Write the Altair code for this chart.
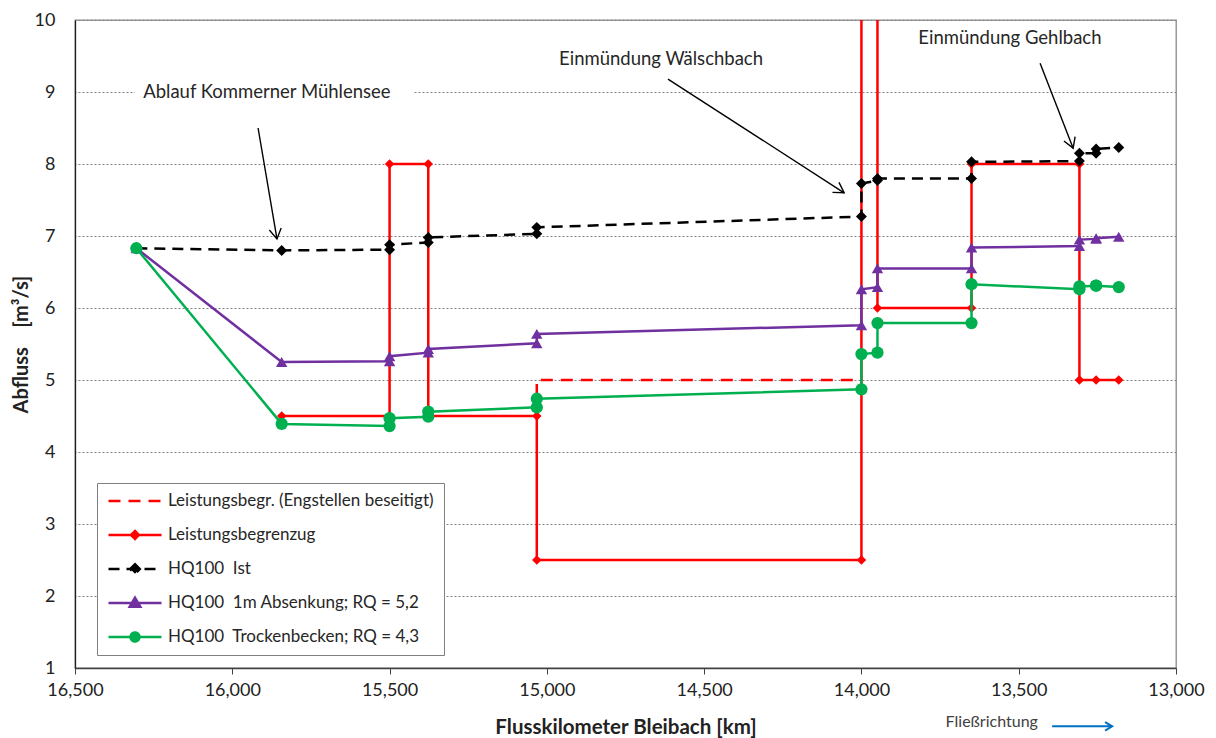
import math
import altair as alt
import pandas as pd

# ---------------- data ----------------
W, H = 1101, 648
KM_MIN, KM_MAX = 13000, 16500
Q_MIN, Q_MAX = 1, 10
X_TICKS = [16500, 16000, 15500, 15000, 14500, 14000, 13500, 13000]
Y_TICKS = [1, 2, 3, 4, 5, 6, 7, 8, 9, 10]

# cross sections shared by the three HQ100 series
KM = [16305, 15843, 15500, 15500, 15377, 15377, 15032, 15032, 14000, 14000,
      13949, 13949, 13650, 13650, 13307, 13307, 13254, 13254, 13182]
Q_IST = [6.83, 6.80, 6.81, 6.88, 6.91, 6.98, 7.03, 7.12, 7.27, 7.73,
         7.77, 7.80, 7.80, 8.03, 8.04, 8.15, 8.15, 8.21, 8.23]
Q_ABS = [6.83, 5.25, 5.26, 5.33, 5.38, 5.43, 5.51, 5.64, 5.76, 6.26,
         6.29, 6.55, 6.55, 6.84, 6.86, 6.95, 6.96, 6.97, 6.99]
Q_TB = [6.83, 4.39, 4.36, 4.47, 4.49, 4.56, 4.62, 4.74, 4.87, 5.36,
        5.38, 5.79, 5.79, 6.33, 6.26, 6.30, 6.31, 6.31, 6.29]

# Leistungsbegrenzung
LB_KM = [15843, 15500, 15500, 15377, 15377, 15032, 15032, 14000, 14000,
         13949, 13949, 13650, 13650, 13307, 13307, 13254, 13182]
LB_Q = [4.5, 4.5, 8.0, 8.0, 4.5, 4.5, 2.5, 2.5, 11.0,
        11.0, 6.0, 6.0, 8.0, 8.0, 5.0, 5.0, 5.0]

# Leistungsbegr. (Engstellen beseitigt)
ENG_KM = [15032, 15032, 14000]
ENG_Q = [4.5, 5.0, 5.0]

LEG_LABELS = ["Leistungsbegr. (Engstellen beseitigt)",
              "Leistungsbegrenzug",
              "HQ100\u00a0 Ist",
              "HQ100\u00a0 1m Absenkung; RQ = 5,2",
              "HQ100\u00a0 Trockenbecken; RQ = 4,3"]

# annotations
NOTE_TEXT = ["Ablauf Kommerner Mühlensee", "Einmündung Wälschbach", "Einmündung Gehlbach"]
NOTE_KM = [15890, 14637, 13528]
NOTE_Q = [9.0, 9.46, 9.75]
BOX_KM0, BOX_KM1, BOX_Q0, BOX_Q1 = [16309], [15426], [8.85], [9.15]
ARROW_KM0 = [15918, 14615, 13432]
ARROW_Q0 = [8.50, 9.18, 9.40]
ARROW_KM1 = [15858, 14055, 13327]
ARROW_Q1 = [6.96, 7.60, 8.22]
FLOW_TEXT = ["Fließrichtung"]
FLOW_KM, FLOW_Q = [13439], [0.25]
FLOW_ARROW_KM0, FLOW_ARROW_KM1, FLOW_ARROW_Q = [13394], [13203], [0.19]

# ---------------- styling ----------------
FONT = "Lato"
RED, BLACK, PURPLE, GREEN, BLUE = "#FF0000", "#000000", "#7030A0", "#00B050", "#0070C0"

x_scale = alt.Scale(domain=[KM_MIN, KM_MAX], reverse=True, nice=False, zero=False)
y_scale = alt.Scale(domain=[Q_MIN, Q_MAX], nice=False, zero=False)

x_axis = alt.Axis(values=X_TICKS, format=",.0f", title="Flusskilometer Bleibach [km]",
                  grid=False, ticks=True, tickSize=6, tickColor="#404040", tickWidth=1,
                  domainColor="#404040", domainWidth=1.3,
                  labelFont=FONT, labelFontSize=18, labelColor="#222", labelPadding=7,
                  labelFlush=False, labelOverlap=False,
                  titleFont=FONT, titleFontSize=20.5, titleFontWeight="bold", titleColor="#222",
                  titleBaseline="middle", titleY=59)
y_axis = alt.Axis(values=Y_TICKS, format="d", title="Abfluss\u00a0\u00a0\u00a0 [m³/s]", grid=True,
                  gridColor="#808080", gridDash=[2, 2], gridWidth=1,
                  ticks=False, tickSize=0, domainColor="#202020", domainWidth=1.3,
                  labelFont=FONT, labelFontSize=18, labelColor="#222", labelPadding=20,
                  labelFlush=False, labelOverlap=False,
                  titleFont=FONT, titleFontSize=20, titleFontWeight="bold", titleColor="#222",
                  titleAngle=270, titleBaseline="middle", titleAlign="center",
                  titleX=-54, titleY=H / 2)


def X(field):
    return alt.X(field, type="quantitative", scale=x_scale, axis=x_axis)


def Y(field):
    return alt.Y(field, type="quantitative", scale=y_scale, axis=y_axis)


def sdf(km, q):
    return pd.DataFrame({"km": km, "q": q, "i": list(range(len(km)))})


layers = []

# annotation background box
layers.append(alt.Chart(pd.DataFrame({"a": BOX_KM0, "b": BOX_KM1, "c": BOX_Q0, "d": BOX_Q1}))
              .mark_rect(color="white")
              .encode(x=X("a"), x2=alt.X2("b"), y=Y("c"), y2=alt.Y2("d")))

series = [
    (ENG_KM, ENG_Q, RED, [12, 8], None, 0),
    (LB_KM, LB_Q, RED, None, "diamond", 90),
    (KM, Q_IST, BLACK, [11, 7], "diamond", 120),
    (KM, Q_ABS, PURPLE, None, "triangle-up", 130),
    (KM, Q_TB, GREEN, None, "circle", 150),
]
for km, q, col, dash, shape, size in series:
    d = sdf(km, q)
    lk = dict(color=col, strokeWidth=2.5, clip=True)
    if dash:
        lk["strokeDash"] = dash
    layers.append(alt.Chart(d).mark_line(**lk).encode(x=X("km"), y=Y("q"), order=alt.Order("i:Q")))
    if shape:
        layers.append(alt.Chart(d).mark_point(filled=True, shape=shape, size=size, color=col,
                                              opacity=1, clip=True)
                      .encode(x=X("km"), y=Y("q")))

# annotations text
layers.append(alt.Chart(pd.DataFrame({"t": NOTE_TEXT, "km": NOTE_KM, "q": NOTE_Q}))
              .mark_text(font=FONT, fontSize=18.5, color="#262626", align="center", baseline="middle")
              .encode(x=X("km"), y=Y("q"), text="t:N"))

# arrows
PXKM = W / (KM_MAX - KM_MIN)
PXQ = H / (Q_MAX - Q_MIN)


def head_angle(k0, q0, k1, q1):
    dx = -(k1 - k0) * PXKM
    dy = -(q1 - q0) * PXQ
    return math.degrees(math.atan2(-dx, dy)) % 360


arr = pd.DataFrame({"k0": ARROW_KM0, "q0": ARROW_Q0, "k1": ARROW_KM1, "q1": ARROW_Q1})
arr["ang"] = [head_angle(a, b, c, d) for a, b, c, d in zip(ARROW_KM0, ARROW_Q0, ARROW_KM1, ARROW_Q1)]
HEAD = "M-0.6,-1L0,0L0.6,-1"
layers.append(alt.Chart(arr).mark_rule(color="black", strokeWidth=1.4)
              .encode(x=X("k0"), y=Y("q0"), x2=alt.X2("k1"), y2=alt.Y2("q1")))
layers.append(alt.Chart(arr).mark_point(shape=HEAD, filled=False, color="black", strokeWidth=1.4,
                                        size=400, opacity=1)
              .encode(x=X("k1"), y=Y("q1"), angle=alt.Angle("ang:Q", scale=None)))

# flow direction
layers.append(alt.Chart(pd.DataFrame({"t": FLOW_TEXT, "km": FLOW_KM, "q": FLOW_Q}))
              .mark_text(font=FONT, fontSize=16, color="#404040", align="right", baseline="middle",
                         clip=False)
              .encode(x=X("km"), y=Y("q"), text="t:N"))
flow = pd.DataFrame({"k0": FLOW_ARROW_KM0, "k1": FLOW_ARROW_KM1, "q": FLOW_ARROW_Q})
flow["ang"] = [head_angle(a, q, b, q) for a, b, q in zip(FLOW_ARROW_KM0, FLOW_ARROW_KM1, FLOW_ARROW_Q)]
layers.append(alt.Chart(flow).mark_rule(color=BLUE, strokeWidth=2)
              .encode(x=X("k0"), x2=alt.X2("k1"), y=Y("q")))
layers.append(alt.Chart(flow).mark_point(shape=HEAD, filled=False, color=BLUE, strokeWidth=2,
                                         size=200, opacity=1)
              .encode(x=X("k1"), y=Y("q"), angle=alt.Angle("ang:Q", scale=None)))

# legend (driven by scales)
LEG_COLORS = [RED, RED, BLACK, PURPLE, GREEN]
LEG_SHAPES = [
    "M-1,0H1",
    "M-1,0H1M0,-0.15L0.15,0L0,0.15L-0.15,0Z",
    "M-1,0H1M0,-0.18L0.18,0L0,0.18L-0.18,0Z",
    "M-1,0H1M0,-0.2L0.2,0.14L-0.2,0.14Z",
    "M-1,0H1M-0.17,0A0.17,0.17,0,1,0,0.17,0A0.17,0.17,0,1,0,-0.17,0Z",
]
LEG_DASH = [[12, 8], [1, 0], [11, 7], [1, 0], [1, 0]]
leg = alt.Legend(title=None, orient="none", legendX=22, legendY=463, direction="vertical",
                 symbolSize=2809, symbolStrokeWidth=2.5, symbolOpacity=1, clipHeight=16,
                 rowPadding=17, labelOffset=5, symbolOffset=0, padding=10,
                 fillColor="white", strokeColor="#808080",
                 labelFont=FONT, labelFontSize=17, labelColor="#262626", labelLimit=500)
ldf = pd.DataFrame({"series": LEG_LABELS})
layers.append(alt.Chart(ldf).mark_point(filled=True, opacity=0).encode(
    fill=alt.Fill("series:N", scale=alt.Scale(domain=LEG_LABELS, range=LEG_COLORS), legend=leg),
    stroke=alt.Stroke("series:N", scale=alt.Scale(domain=LEG_LABELS, range=LEG_COLORS), legend=leg),
    shape=alt.Shape("series:N", scale=alt.Scale(domain=LEG_LABELS, range=LEG_SHAPES), legend=leg),
    strokeDash=alt.StrokeDash("series:N", scale=alt.Scale(domain=LEG_LABELS, range=LEG_DASH), legend=leg),
))

chart = alt.layer(*layers).properties(
    width=W, height=H,
    padding={"left": 67, "top": 12, "right": 30, "bottom": 72},
    autosize=alt.AutoSizeParams(type="none"),
    background="white",
).configure_view(stroke="#888888", strokeWidth=1.3, fill="white")

chart.save("out.html", embed_options={"renderer": "svg", "actions": False})
